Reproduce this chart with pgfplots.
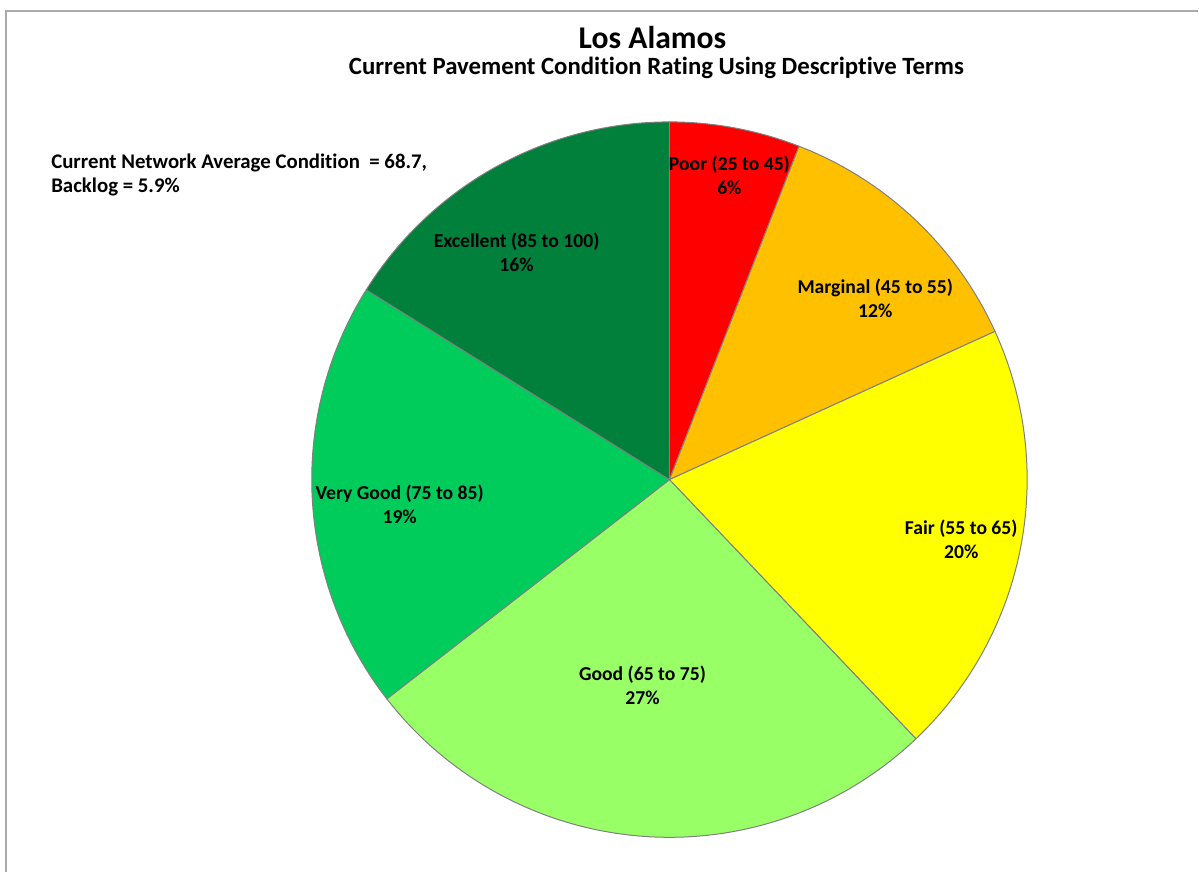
\documentclass[border=0pt]{standalone}
\usepackage{fontspec}
\setmainfont{Carlito}[Ligatures=NoCommon]
\usepackage{pgfplots}
\usepackage{pgfplotstable}
\pgfplotsset{compat=1.18}

\definecolor{slice0}{RGB}{255,0,0}
\definecolor{slice1}{RGB}{255,192,0}
\definecolor{slice2}{RGB}{255,255,0}
\definecolor{slice3}{RGB}{153,255,102}
\definecolor{slice4}{RGB}{0,204,92}
\definecolor{slice5}{RGB}{0,128,58}
\definecolor{slicegray}{RGB}{128,128,128}
\definecolor{framegray}{RGB}{170,170,170}

\tikzset{lbl/.style={align=center, inner sep=0pt, font=\fontsize{11.8}{14.4}\selectfont\bfseries}}

% share of the network in each condition class, clockwise from 12 o'clock
% lx, ly: label centre in picture pixels (y measured from the top)
\pgfplotstableread[col sep=comma]{
label,value,pct,lx,ly
Poor (25 to 45),5.9,6,730,175
Marginal (45 to 55),12.3,12,876,299
Fair (55 to 65),19.7,20,962,540
Good (65 to 75),26.6,27,643,686
Very Good (75 to 85),19.4,19,400,505
Excellent (85 to 100),16.1,16,517,252
}\piedata

\begin{document}
\begin{tikzpicture}
\pgfplotstablegetrowsof{\piedata}
\pgfmathtruncatemacro\lastrow{\pgfplotsretval-1}
\gdef\slices{}\gdef\labels{}
\def\cum{0}
\pgfplotsforeachungrouped \i in {0,...,\lastrow}{%
  \pgfplotstablegetelem{\i}{value}\of\piedata\let\v\pgfplotsretval
  \pgfplotstablegetelem{\i}{label}\of\piedata\let\lab\pgfplotsretval
  \pgfplotstablegetelem{\i}{pct}\of\piedata\let\pct\pgfplotsretval
  \pgfplotstablegetelem{\i}{lx}\of\piedata\let\lx\pgfplotsretval
  \pgfplotstablegetelem{\i}{ly}\of\piedata\let\ly\pgfplotsretval
  \pgfmathsetmacro\a{90-3.6*\cum}%
  \pgfmathsetmacro\cum{\cum+\v}%
  \pgfmathsetmacro\b{90-3.6*\cum}%
  \xdef\slices{\unexpanded\expandafter{\slices}\noexpand\filldraw[fill=slice\i,draw=slicegray,line width=0.6pt]
    (axis cs:670,480) -- ++(\a:214.8pt) arc[start angle=\a,end angle=\b,radius=214.8pt] -- cycle;}%
  \xdef\labels{\unexpanded\expandafter{\labels}\noexpand\node[lbl] at (axis cs:\lx,\ly) {\lab\noexpand\\\pct\noexpand\%};}%
}
\begin{axis}[x=0.6pt, y=0.6pt, y dir=reverse,
  xmin=0, xmax=1199, ymin=0, ymax=873,
  hide axis, clip=false]
\path (axis cs:0,0) rectangle (axis cs:1199,873);
\draw[framegray, line width=1.2pt] (axis cs:6.5,873) -- (axis cs:6.5,11) -- (axis cs:1199,11);
\slices
\labels
\node[anchor=base, inner sep=0pt, font=\fontsize{19}{22}\selectfont\bfseries] at (axis cs:653,49) {Los Alamos};
\node[anchor=base, inner sep=0pt, font=\fontsize{14.9}{17}\selectfont\bfseries] at (axis cs:657,75) {Current Pavement Condition Rating Using Descriptive Terms};
\node[anchor=base west, inner sep=0pt, font=\fontsize{12.5}{14.4}\selectfont\bfseries] at (axis cs:51,169) {Current Network Average Condition \ = 68.7,};
\node[anchor=base west, inner sep=0pt, font=\fontsize{12.5}{14.4}\selectfont\bfseries] at (axis cs:51,193) {Backlog = 5.9\%};
\end{axis}
\end{tikzpicture}
\end{document}
